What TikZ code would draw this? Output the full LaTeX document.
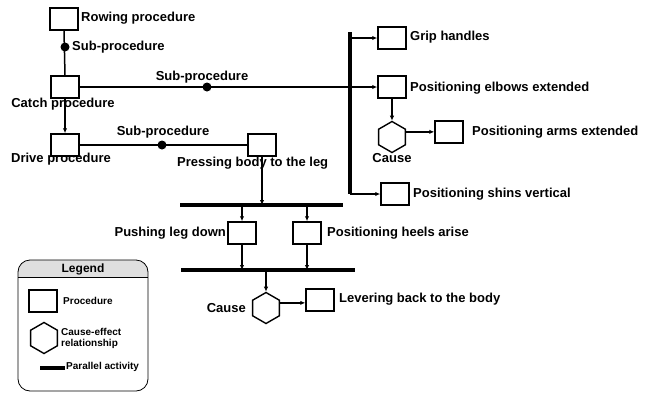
\documentclass[tikz,border=0pt]{standalone}
\usepackage{fontspec}
\setmainfont{Liberation Sans}
\usetikzlibrary{arrows.meta,shapes.geometric}

\tikzset{
  procbox/.style={draw, line width=1.5pt, minimum width=28pt, minimum height=22pt, inner sep=0pt},
  hexa/.style={draw, line width=1.4pt, regular polygon, regular polygon sides=6,
    regular polygon rotate=30, minimum size=31pt, inner sep=0pt},
  subdot/.style={circle, fill, inner sep=0pt, minimum size=9pt},
  lbl/.style={font=\fontsize{13}{15}\selectfont\bfseries, inner sep=0pt},
  smalllbl/.style={font=\fontsize{10}{11}\selectfont\bfseries, inner sep=0pt, align=left},
  conn/.style={line width=1.5pt},
  arr/.style={line width=1.4pt, -{Latex[length=5pt,width=4.5pt]}},
  pbar/.style={line width=4pt},
}

\begin{document}
\begin{tikzpicture}[x=1pt,y=-1pt]
\useasboundingbox (0,0) rectangle (655,394);

% Procedures
\node[procbox] (row)    at (64,19)  {};
\node[procbox] (catch)  at (65,87)  {};
\node[procbox] (drive)  at (65,145) {};
\node[procbox] (press)  at (262,145) {};
\node[procbox] (grip)   at (392,38) {};
\node[procbox] (elb)    at (392,87) {};
\node[procbox] (arms)   at (449,132) {};
\node[procbox] (shins)  at (395,194) {};
\node[procbox] (pushl)  at (242,233) {};
\node[procbox] (heels)  at (307,233) {};
\node[procbox] (lever)  at (320,300) {};
% Cause-effect
\node[hexa] (hexup) at (392,137) {};
\node[hexa] (hexlo) at (266,308) {};

% Parallel bars
\coordinate (vtop) at (350,32);
\coordinate (vbot) at (350,194);
\coordinate (bal) at (180,205);
\coordinate (bar) at (343,205);
\coordinate (bbl) at (181,270);
\coordinate (bbr) at (355,270);
\draw[pbar] (vtop) -- (vbot);
\draw[pbar] (bal) -- (bar);
\draw[pbar] (bbl) -- (bbr);

% Sub-procedure lines
\draw[conn] (row.south) -- (catch.north);
\draw[conn] (catch.east) -- (catch.east -| vtop);
\draw[conn] (drive.east) -- (press.west);
\node[subdot] (d1) at (65,47) {};
\node[subdot] (d2) at (207,87) {};
\node[subdot] (d3) at (162,145) {};

% Arrows
\draw[arr] (catch.south) -- (drive.north);
\draw[arr] (vtop |- grip.west) -- (grip.west);
\draw[arr] (vtop |- elb.west) -- (elb.west);
\draw[arr] (vtop |- shins.west) -- (shins.west);
\draw[arr] (elb.south) -- (hexup.north);
\draw[arr] (hexup.20) -- (hexup.20 -| arms.west);
\draw[arr] (press.south) -- (press.south |- bal);
\draw[arr] (pushl.north |- bal) -- (pushl.north);
\draw[arr] (heels.north |- bal) -- (heels.north);
\draw[arr] (pushl.south) -- (pushl.south |- bbl);
\draw[arr] (heels.south) -- (heels.south |- bbl);
\draw[arr] (hexlo.north |- bbl) -- (hexlo.north);
\draw[arr] (hexlo.20) -- (hexlo.20 -| lever.west);

% Labels
\node[lbl, anchor=west] (trow) at (81,18) {Rowing procedure};
\node[lbl, anchor=west] (tsub1) at (72,47) {Sub-procedure};
\node[lbl] (tsub2) at (202,77) {Sub-procedure};
\node[lbl] (tcatch) at (63,104) {Catch procedure};
\node[lbl] (tsub3) at (163,132) {Sub-procedure};
\node[lbl] (tdrive) at (61,159) {Drive procedure};
\node[lbl, anchor=west] (tpress) at (177,163) {Pressing body to the leg};
\node[lbl, anchor=west] (tgrip) at (410,37) {Grip handles};
\node[lbl, anchor=west] (telb) at (410,88) {Positioning elbows extended};
\node[lbl, anchor=west] (tarms) at (472,132) {Positioning arms extended};
\node[lbl] (tcause1) at (392,158) {Cause};
\node[lbl, anchor=west] (tshins) at (413,194) {Positioning shins vertical};
\node[lbl, anchor=east] (tpushl) at (226,233) {Pushing leg down};
\node[lbl, anchor=west] (theels) at (327,233) {Positioning heels arise};
\node[lbl, anchor=east] (tcause2) at (246,308) {Cause};
\node[lbl, anchor=west] (tlever) at (339,299) {Levering back to the body};

% Legend
\begin{scope}
  \clip[rounded corners=12pt] (18,260) rectangle (148,391);
  \fill[gray!25] (18,260) rectangle (148,277);
\end{scope}
\draw[line width=0.8pt, rounded corners=12pt] (18,260) rectangle (148,391);
\draw[line width=0.8pt] (18,277) -- (148,277);
\node[lbl, font=\fontsize{12}{14}\selectfont\bfseries] (tleg) at (83,269) {Legend};
\node[procbox] (lbox) at (43,301) {};
\node[smalllbl, anchor=west] (tlbox) at (63,301) {Procedure};
\node[hexa] (lhex) at (44,338) {};
\node[smalllbl, anchor=west] (tlhex) at (61,338) {Cause-effect\\relationship};
\coordinate (lpa) at (40,368);
\coordinate (lpb) at (65,368);
\draw[pbar] (lpa) -- (lpb);
\node[smalllbl, anchor=west] (tlpar) at (66,367) {Parallel activity};

\end{tikzpicture}
\end{document}
